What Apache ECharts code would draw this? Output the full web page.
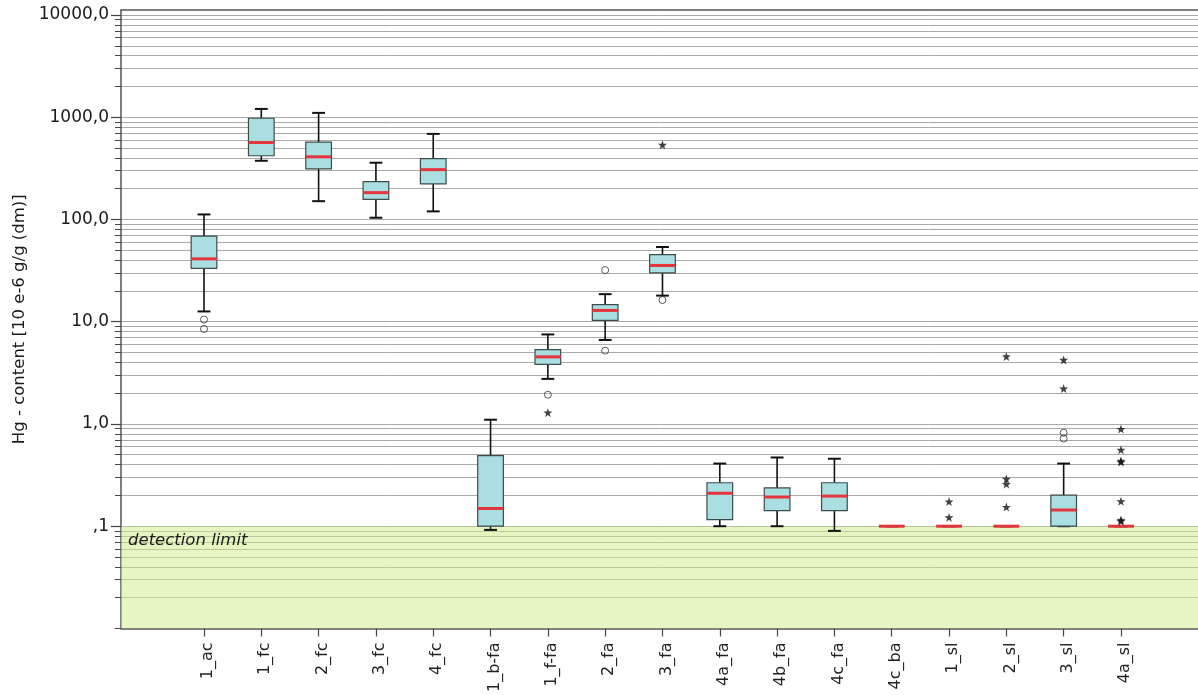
<!DOCTYPE html>
<html><head><meta charset="utf-8">
<script src="https://cdn.jsdelivr.net/npm/echarts@6/dist/echarts.min.js"></script>
<style>html,body{margin:0;padding:0;background:#fff}#c{width:1198px;height:695px}</style>
</head><body><div id="c"></div>
<script>
// ---------- data ----------
const categories = ['1_ac','1_fc','2_fc','3_fc','4_fc','1_b-fa','1_f-fa','2_fa','3_fa','4a_fa','4b_fa','4c_fa','4c_ba','1_sl','2_sl','3_sl','4a_sl'];
const whiskerLow  = [12.6, 375, 151, 104, 120, 0.092, 2.76,  6.63, 18.0, 0.1,   0.1,   0.09,  0.1, 0.1, 0.1, 0.1,   0.1];
const quartile1   = [33.2, 420, 312, 157, 223, 0.1,   3.83, 10.3,  30.1, 0.116, 0.142, 0.142, 0.1, 0.1, 0.1, 0.1,   0.1];
const medians     = [41.2, 566, 410, 183, 307, 0.149, 4.53, 12.9,  35.5, 0.210, 0.193, 0.197, 0.1, 0.1, 0.1, 0.144, 0.1];
const quartile3   = [68.8, 977, 571, 234, 393, 0.49,  5.34, 14.7,  45.4, 0.266, 0.237, 0.266, 0.1, 0.1, 0.1, 0.201, 0.1];
const whiskerHigh = [112, 1205, 1103, 359, 687, 1.10, 7.51, 18.6,  53.8, 0.410, 0.470, 0.457, 0.1, 0.1, 0.1, 0.41,  0.1];
const circleOutliers = [['1_ac',10.5],['1_ac',8.5],['1_f-fa',1.93],['2_fa',32.0],['2_fa',5.21],['3_fa',16.3],['3_sl',0.82],['3_sl',0.72]];
const starOutliers = [['1_f-fa',1.29],['3_fa',537],['1_sl',0.174],['1_sl',0.122],
  ['2_sl',4.57],['2_sl',0.290],['2_sl',0.258],['2_sl',0.154],
  ['3_sl',4.23],['3_sl',2.22],
  ['4a_sl',0.892],['4a_sl',0.558],['4a_sl',0.435],['4a_sl',0.425],['4a_sl',0.175],['4a_sl',0.115],['4a_sl',0.112]];
const yTickValues = [10000, 1000, 100, 10, 1, 0.1];
const yTickLabels = ['10000,0', '1000,0', '100,0', '10,0', '1,0', ',1'];
const detectionLimit = 0.1;
const yName = 'Hg - content [10 e-6 g/g (dm)]';
const bandLabel = 'detection limit';

// ---------- axes / layout ----------
const yMin = 0.01, yMax = 11186;
const xMin = -1.448, xMax = 17.344;
const BOX_W = 0.448;
const catIdx = categories.map((c, i) => i);
const gridValues = [];
for (let e = -2; e <= 3; e++) for (let m = 1; m <= 9; m++) gridValues.push(parseFloat((m * Math.pow(10, e)).toPrecision(3)));
gridValues.push(10000);

const boxData = categories.map((c, i) => [i, whiskerLow[i], quartile1[i], medians[i], quartile3[i], whiskerHigh[i]]);
const circleData = circleOutliers.map(d => [categories.indexOf(d[0]), d[1]]);
const starData = starOutliers.map(d => [categories.indexOf(d[0]), d[1]]);

const STAR = 'path://M100 0 L123.5 67.6 L195.1 69.1 L138 112.4 L158.8 180.9 L100 140 L41.2 180.9 L62 112.4 L4.9 69.1 L76.5 67.6 Z';
const FONT = 'DejaVu Sans';

function renderBox(params, api) {
  const x = api.value(0);
  const pLow = api.coord([x, api.value(1)]);
  const pQ1 = api.coord([x, api.value(2)]);
  const pMed = api.coord([x, api.value(3)]);
  const pQ3 = api.coord([x, api.value(4)]);
  const pHigh = api.coord([x, api.value(5)]);
  const bw = api.size([BOX_W, 0])[0];
  const cw = bw / 2;
  const cx = pMed[0];
  const wl = {stroke: '#111', lineWidth: 1.6};
  return {
    type: 'group',
    children: [
      {type: 'line', shape: {x1: cx, y1: pQ3[1], x2: cx, y2: pHigh[1]}, style: wl},
      {type: 'line', shape: {x1: cx, y1: pQ1[1], x2: cx, y2: pLow[1]}, style: wl},
      {type: 'line', shape: {x1: cx - cw / 2, y1: pHigh[1], x2: cx + cw / 2, y2: pHigh[1]}, style: {stroke: '#111', lineWidth: 2}},
      {type: 'line', shape: {x1: cx - cw / 2, y1: pLow[1], x2: cx + cw / 2, y2: pLow[1]}, style: {stroke: '#111', lineWidth: 2}},
      {type: 'rect', shape: {x: cx - bw / 2, y: pQ3[1], width: bw, height: pQ1[1] - pQ3[1]}, style: {fill: '#aadfe2', stroke: '#3d4b4b', lineWidth: 1.2}},
      {type: 'line', shape: {x1: cx - bw / 2, y1: pMed[1], x2: cx + bw / 2, y2: pMed[1]}, style: {stroke: '#e3353b', lineWidth: 3}}
    ]
  };
}

function yLabel(v) {
  for (let i = 0; i < yTickValues.length; i++) {
    if (Math.abs(Math.log10(v) - Math.log10(yTickValues[i])) < 1e-6) return yTickLabels[i];
  }
  return '';
}

const chart = echarts.init(document.getElementById('c'), null, {renderer: 'canvas'});
chart.setOption({
  animation: false,
  backgroundColor: '#ffffff',
  grid: {left: 121, right: 0, top: 10, bottom: 64, containLabel: false},
  xAxis: [{
    type: 'value', min: xMin, max: xMax, position: 'bottom',
    axisLine: {show: true, onZero: false, lineStyle: {color: '#555', width: 1.5}},
    axisTick: {show: true, length: 8, customValues: catIdx, lineStyle: {color: '#444', width: 1.2}},
    axisLabel: {show: true, customValues: catIdx, rotate: 90, margin: 14,
      formatter: v => categories[Math.round(v)] || '',
      verticalAlign: 'top', padding: [-4, 0, 0, 0],
      fontSize: 16, color: '#222', fontFamily: FONT},
    splitLine: {show: false}
  }, {
    type: 'value', min: xMin, max: xMax, position: 'top',
    axisLine: {show: true, onZero: false, lineStyle: {color: '#555', width: 1.5}},
    axisTick: {show: false}, axisLabel: {show: false}, splitLine: {show: false}
  }],
  yAxis: [{
    type: 'log', logBase: 10, min: yMin, max: yMax, position: 'left',
    axisLine: {show: true, onZero: false, lineStyle: {color: '#555', width: 1.5}},
    axisTick: {show: true, length: 10, customValues: yTickValues, lineStyle: {color: '#444', width: 1.2}},
    axisLabel: {show: true, customValues: yTickValues, formatter: yLabel, margin: 12,
      fontSize: 17, color: '#1a1a1a', fontFamily: FONT},
    splitLine: {show: false},
    name: yName, nameLocation: 'middle', nameGap: 86,
    nameTextStyle: {fontSize: 16.5, color: '#1a1a1a', fontFamily: FONT}
  }, {
    type: 'log', logBase: 10, min: yMin, max: yMax, position: 'left', offset: 0,
    axisLine: {show: false, onZero: false},
    axisTick: {show: true, length: 6, customValues: gridValues, lineStyle: {color: '#444', width: 1}},
    axisLabel: {show: false},
    splitLine: {show: true, lineStyle: {color: '#a9a9a9', width: 1}}
  }],
  series: [{
    type: 'scatter', xAxisIndex: 0, yAxisIndex: 0, data: [], silent: true,
    markArea: {
      silent: true,
      itemStyle: {color: 'rgba(205,237,135,0.5)', borderWidth: 0},
      label: {show: true, position: 'insideTopLeft', distance: 5, offset: [2, 1], formatter: bandLabel,
        fontStyle: 'italic', fontSize: 16.5, color: '#1a1a1a', fontFamily: FONT},
      data: [[{xAxis: xMin, yAxis: yMin}, {xAxis: xMax, yAxis: detectionLimit}]]
    }
  }, {
    type: 'custom', xAxisIndex: 0, yAxisIndex: 0, renderItem: renderBox,
    encode: {x: 0, y: [1, 2, 3, 4, 5]}, data: boxData, z: 3, silent: true
  }, {
    type: 'scatter', xAxisIndex: 0, yAxisIndex: 0, data: circleData, symbol: 'circle', symbolSize: 7, z: 4,
    itemStyle: {color: 'rgba(0,0,0,0)', borderColor: '#333', borderWidth: 1}, silent: true
  }, {
    type: 'scatter', xAxisIndex: 0, yAxisIndex: 0, data: starData, symbol: STAR, symbolSize: 9, z: 4,
    itemStyle: {color: '#111'}, silent: true
  }]
});
</script>
</body></html>
